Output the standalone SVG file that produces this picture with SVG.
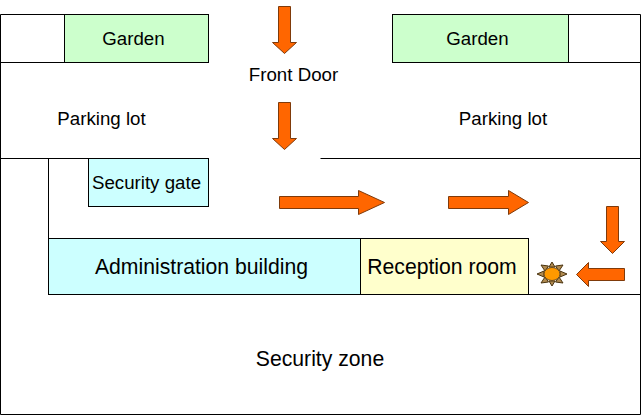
<svg xmlns="http://www.w3.org/2000/svg" width="644" height="419" viewBox="0 0 644 419">
<style>
.b{stroke:#000;stroke-width:1;fill:none}
.g{fill:#ccffcc}.c{fill:#ccffff}.y{fill:#ffffcc}
.a{fill:#ff6600;stroke:#7f3a0a;stroke-width:1}
.s{fill:#ff9900;stroke:#6b4a1a;stroke-width:1}
.r{fill:#b08a50;stroke:#4a3410;stroke-width:1}
text{font-family:"Liberation Sans",Arial,sans-serif;fill:#000;text-anchor:middle}
.m{font-size:18.7px}.l{font-size:21.2px}
</style>
<rect width="644" height="419" fill="#fff"/>
<g id="site-outline">
<path class="b" d="M0.5 14.5H208.5V62.5M0.5 14.5V414.5H640.5V14.5H392.5V62.5M0.5 62.5H208.5M392.5 62.5H640.5M0.5 158.5H208.5M320.5 158.5H640.5M48.5 158.5V238.5M528.5 294.5H640.5"/>
</g>
<g id="garden-left"><rect class="b g" x="64.500" y="14.500" width="144" height="48"/><text class="m" x="133.500" y="44.500">Garden</text></g>
<g id="garden-right"><rect class="b g" x="392.500" y="14.500" width="176" height="48"/><text class="m" x="477.500" y="44.500">Garden</text></g>
<g id="front-door"><text class="m" x="293.500" y="80.500">Front Door</text></g>
<g id="parking-left"><text class="m" x="101.500" y="124.500">Parking lot</text></g>
<g id="parking-right"><text class="m" x="503" y="124.500">Parking lot</text></g>
<g id="security-gate"><rect class="b c" x="88.500" y="158.500" width="120" height="48"/><text class="m" x="146.500" y="188.500">Security gate</text></g>
<g id="admin"><rect class="b c" x="48.500" y="238.500" width="312" height="56"/><text class="l" x="201.500" y="273.500">Administration building</text></g>
<g id="reception"><rect class="b y" x="360.500" y="238.500" width="168" height="56"/><text class="l" x="442" y="273.500">Reception room</text></g>
<g id="security-zone"><text class="l" x="320" y="365.500">Security zone</text></g>
<g id="sun">
<path class="r" d="M552 262l3 5h-6zM552 286l3-5h-6zM537 274l7-3v6zM567 274l-7-3v6zM541 265l7.500 1 -3.500 5zM563 265l-7.500 1 3.500 5zM541 283l7.500-1 -3.500-5zM563 283l-7.500-1 3.500-5z"/>
<ellipse class="s" cx="552" cy="274" rx="8" ry="6.500"/>
</g>
<g id="connectors">
<polygon class="a" points="278.500,6.500 290.500,6.500 290.500,42.500 296.500,42.500 284.500,53.500 272.500,42.500 278.500,42.500"/>
<polygon class="a" points="278.500,102.500 290.500,102.500 290.500,138.500 296.500,138.500 284.500,149.500 272.500,138.500 278.500,138.500"/>
<polygon class="a" points="279.500,196.500 358.500,196.500 358.500,190.500 384.500,202.500 358.500,214.500 358.500,208.500 279.500,208.500"/>
<polygon class="a" points="448.500,196.500 508.500,196.500 508.500,190.500 528.500,202.500 508.500,214.500 508.500,208.500 448.500,208.500"/>
<polygon class="a" points="606.500,206.500 618.500,206.500 618.500,241.500 624.500,241.500 612.500,253.500 600.500,241.500 606.500,241.500"/>
<polygon class="a" points="624.500,268.500 588.500,268.500 588.500,262.500 576.500,274.500 588.500,286.500 588.500,280.500 624.500,280.500"/>
</g>
</svg>
